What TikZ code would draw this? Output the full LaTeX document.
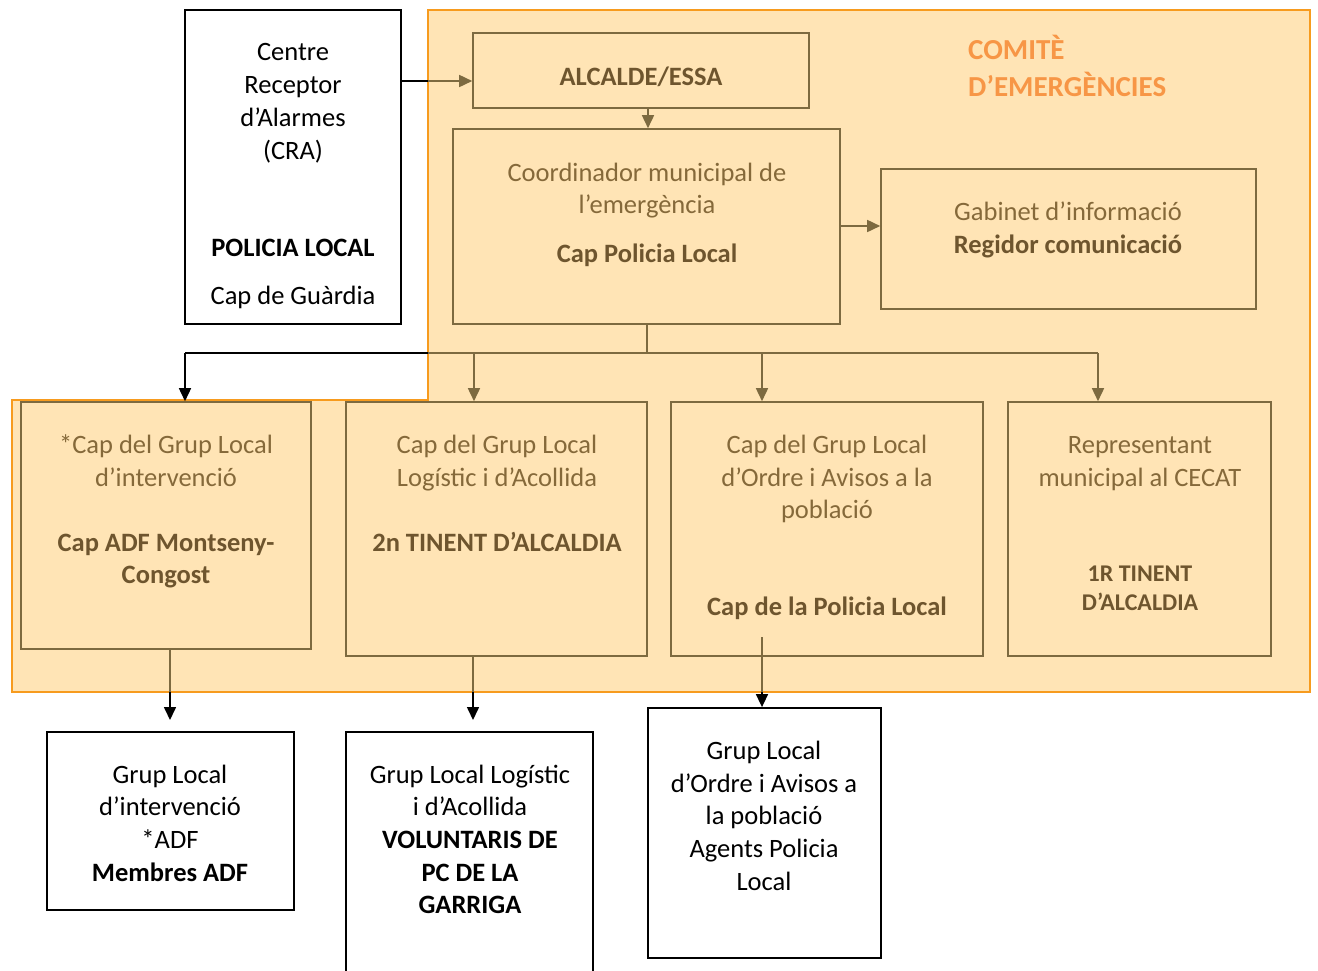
\documentclass[tikz,border=0pt]{standalone}
\usepackage{fontspec}
\setmainfont{Carlito}
\usetikzlibrary{arrows.meta}
\definecolor{zonefill}{HTML}{FFE4B5}
\definecolor{zoneline}{HTML}{F79B1E}
\definecolor{brownline}{HTML}{7D6A40}
\definecolor{browntxt}{HTML}{85693A}
\definecolor{brownbold}{HTML}{6E552E}
\definecolor{titleorange}{HTML}{F79646}
\newcommand\rbox[6]{\node[#6,minimum width={#4-#2},minimum height={#5-#3}] (#1) at ({(#2+#4)/2},{(#3+#5)/2}) {};}
\newcommand\txtline[5]{\node[#4] (#1) at (#2,{#3+8}) {#5};}
\tikzset{
 bbox/.style={draw=brownline,line width=1.6pt,inner sep=0pt},
 wbox/.style={draw=black,line width=1.8pt,fill=white,inner sep=0pt},
 rt/.style={font=\fontsize{26.5}{33}\selectfont,text=browntxt,inner sep=0pt,anchor=base},
 bt/.style={font=\fontsize{26.5}{33}\selectfont\bfseries,text=brownbold,inner sep=0pt,anchor=base},
 st/.style={font=\fontsize{24}{29}\selectfont\bfseries,text=brownbold,inner sep=0pt,anchor=base},
 kt/.style={font=\fontsize{26.5}{33}\selectfont,text=black,inner sep=0pt,anchor=base},
 kbt/.style={font=\fontsize{26.5}{33}\selectfont\bfseries,text=black,inner sep=0pt,anchor=base},
 ttl/.style={font=\fontsize{29}{37}\selectfont\bfseries,text=titleorange,inner sep=0pt,anchor=base west},
 bl/.style={draw=brownline,line width=1.6pt},
 kl/.style={draw=black,line width=1.6pt},
 arr/.style={bl,-{Triangle[length=13pt,width=12pt]}},
 karr/.style={kl,-{Triangle[length=13pt,width=12pt]}},
}
\begin{document}
\begin{tikzpicture}[x=1pt,y=-1pt]
\useasboundingbox (0,0) rectangle (1318,970);
% committee zone
\draw[fill=zonefill,draw=zoneline,line width=1.8pt] (428,10) -- (1310,10) -- (1310,692) -- (12,692) -- (12,400) -- (428,400) -- cycle;

% CRA
\rbox{cra}{185}{10}{401}{324}{wbox}
\txtline{cra1}{293}{52}{kt}{Centre}
\txtline{cra2}{293}{85}{kt}{Receptor}
\txtline{cra3}{293}{118}{kt}{d’Alarmes}
\txtline{cra4}{293}{151}{kt}{(CRA)}
\txtline{cra5}{293}{248}{kbt}{POLICIA LOCAL}
\txtline{cra6}{293}{296}{kt}{Cap de Guàrdia}

% Alcalde
\rbox{alc}{473}{33}{809}{108}{bbox}
\txtline{alc1}{641}{77}{bt}{ALCALDE/ESSA}

% Coordinador
\rbox{coord}{453}{129}{840}{324}{bbox}
\txtline{co1}{647}{173}{rt}{Coordinador municipal de}
\txtline{co2}{647}{205}{rt}{l’emergència}
\txtline{co3}{647}{254}{bt}{Cap Policia Local}

% Gabinet
\rbox{gab}{881}{169}{1256}{309}{bbox}
\txtline{ga1}{1068}{212}{rt}{Gabinet d’informació}
\txtline{ga2}{1068}{245}{bt}{Regidor comunicació}

% Title
\node[ttl] (tit1) at (968,{50+9}) {COMITÈ};
\node[ttl] (tit2) at (968,{87+9}) {D’EMERGÈNCIES};

% Row boxes
\rbox{ba}{21}{402}{311}{649}{bbox}
\txtline{ba1}{166}{445}{rt}{*Cap del Grup Local}
\txtline{ba2}{166}{478}{rt}{d’intervenció}
\txtline{ba3}{166}{543}{bt}{Cap ADF Montseny-}
\txtline{ba4}{166}{575}{bt}{Congost}

\rbox{bb}{346}{402}{647}{656}{bbox}
\txtline{bb1}{497}{445}{rt}{Cap del Grup Local}
\txtline{bb2}{497}{478}{rt}{Logístic i d’Acollida}
\txtline{bb3}{497}{543}{bt}{2n TINENT D’ALCALDIA}

\rbox{bc}{671}{402}{983}{656}{bbox}
\txtline{bc1}{827}{445}{rt}{Cap del Grup Local}
\txtline{bc2}{827}{478}{rt}{d’Ordre i Avisos a la}
\txtline{bc3}{827}{510}{rt}{població}
\txtline{bc4}{827}{607}{bt}{Cap de la Policia Local}

\rbox{bd}{1008}{402}{1271}{656}{bbox}
\txtline{bd1}{1140}{445}{rt}{Representant}
\txtline{bd2}{1140}{478}{rt}{municipal al CECAT}
\txtline{bd3}{1140}{573}{st}{1R TINENT}
\txtline{bd4}{1140}{602}{st}{D’ALCALDIA}

% Bottom boxes
\rbox{la}{47}{732}{294}{910}{wbox}
\txtline{la1}{170}{775}{kt}{Grup Local}
\txtline{la2}{170}{807}{kt}{d’intervenció}
\txtline{la3}{170}{840}{kt}{*ADF}
\txtline{la4}{170}{873}{kbt}{Membres ADF}

\rbox{lb}{346}{732}{593}{975}{wbox}
\txtline{lb1}{470}{775}{kt}{Grup Local Logístic}
\txtline{lb2}{470}{807}{kt}{i d’Acollida}
\txtline{lb3}{470}{840}{kbt}{VOLUNTARIS DE}
\txtline{lb4}{470}{873}{kbt}{PC DE LA}
\txtline{lb5}{470}{905}{kbt}{GARRIGA}

\rbox{lc}{648}{708}{881}{958}{wbox}
\txtline{lc1}{764}{751}{kt}{Grup Local}
\txtline{lc2}{764}{784}{kt}{d’Ordre i Avisos a}
\txtline{lc3}{764}{816}{kt}{la població}
\txtline{lc4}{764}{849}{kt}{Agents Policia}
\txtline{lc5}{764}{882}{kt}{Local}

% connectors
\coordinate (zin) at (428,81);
\draw[kl] (cra.east |- zin) -- (zin);
\draw[arr] (zin) -- (alc.west |- zin);
\coordinate (a1) at (648,0);
\draw[arr] (alc.south -| a1) -- (coord.north -| a1);
\coordinate (g1) at (0,226);
\draw[arr] (coord.east |- g1) -- (gab.west |- g1);

\coordinate (bus) at (647,353);
\coordinate (bzl) at (428,353);
\coordinate (kA) at (185,353);
\coordinate (kB) at (474,353);
\coordinate (kC) at (762,353);
\coordinate (kD) at (1098,353);
\draw[bl] (coord.south -| bus) -- (bus);
\draw[bl] (bzl) -- (kD);
\draw[kl] (bzl) -- (kA);
\draw[karr] (kA) -- (kA |- ba.north);
\draw[arr] (kB) -- (kB |- bb.north);
\draw[arr] (kC) -- (kC |- bc.north);
\draw[arr] (kD) -- (kD |- bd.north);

\coordinate (dA) at (170,692);
\coordinate (dB) at (473,692);
\coordinate (dC) at (762,692);
\coordinate (eA) at (170,720);
\coordinate (eB) at (473,720);
\coordinate (sC) at (762,637);
\draw[bl] (ba.south -| dA) -- (dA);
\draw[karr] (dA) -- (eA);
\draw[bl] (bb.south -| dB) -- (dB);
\draw[karr] (dB) -- (eB);
\draw[bl] (sC) -- (dC);
\draw[karr] (dC) -- (lc.north -| dC);
\end{tikzpicture}
\end{document}
